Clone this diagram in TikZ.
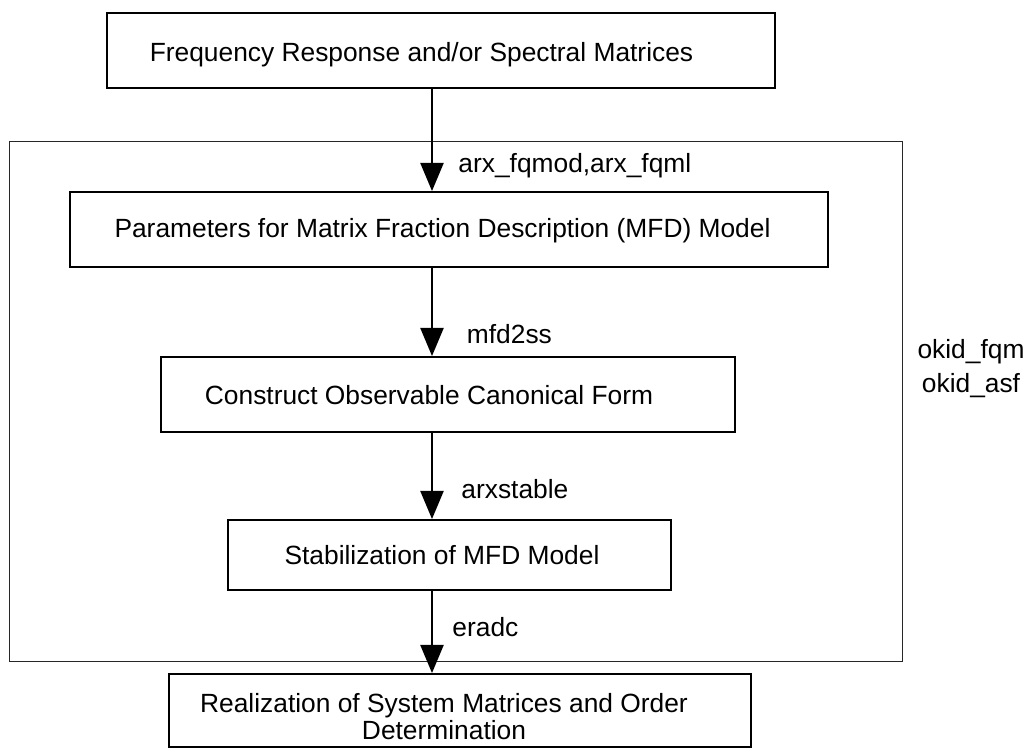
\documentclass[tikz,border=0pt]{standalone}
\usepackage{fontspec}
\setmainfont{Liberation Sans}
\usetikzlibrary{arrows.meta}

\tikzset{
  stage/.style={draw, line width=0.9pt, inner sep=0pt, minimum height=1.2cm},
  flow/.style={-{Triangle[length=4.5mm,width=3.7mm]}, line width=0.9pt},
  cmd/.style={anchor=base west, inner sep=0pt},
  caption/.style={anchor=base, inner sep=0pt},
}

\begin{document}
\begin{tikzpicture}[x=0.016cm,y=-0.016cm,font=\fontsize{12}{12.3}\selectfont]
\useasboundingbox (0,0) rectangle (1029,748);
% okid frame
\draw[line width=0.45pt, black!85] (9,141) rectangle (902,661);
\node[inner sep=0pt, align=center, font=\fontsize{12}{15.4}\selectfont] (okid) at (971,368.7) {okid\_fqm\\okid\_asf};
% stages
\node[stage, minimum width=10.688cm] (freq) at (441,50.9) {};
\node[stage, minimum width=12.128cm] (mfd) at (449,229.5) {};
\node[stage, minimum width=9.184cm] (canon) at (448,394.5) {};
\node[stage, minimum width=7.088cm, minimum height=1.12cm] (stab) at (449.5,555) {};
\node[stage, minimum width=9.312cm, minimum height=1.168cm] (real) at (460,710.5) {};
\node[caption] (freqtxt) at (421.5,61.7) {Frequency Response and/or Spectral Matrices};
\node[caption] (mfdtxt) at (442.5,237.3) {Parameters for Matrix Fraction Description (MFD) Model};
\node[caption] (canontxt) at (429,404.4) {Construct Observable Canonical Form};
\node[caption] (stabtxt) at (442,564.4) {Stabilization of MFD Model};
\node[inner sep=0pt, align=center] (realtxt) at (444,716.4) {Realization of System Matrices and Order\\Determination};
% flow
\coordinate (spine) at (432,0);
\draw[flow] (freq.south -| spine) -- (mfd.north -| spine);
\draw[flow] (mfd.south -| spine) -- (canon.north -| spine);
\draw[flow] (canon.south -| spine) -- (stab.north -| spine);
\draw[flow] (stab.south -| spine) -- (real.north -| spine);
\node[cmd] (arx) at (458,172) {arx\_fqmod,arx\_fqml};
\node[cmd] (m2s) at (466.5,343) {mfd2ss};
\node[cmd] (arxs) at (461,498) {arxstable};
\node[cmd] (era) at (452,636.7) {eradc};
\end{tikzpicture}
\end{document}
